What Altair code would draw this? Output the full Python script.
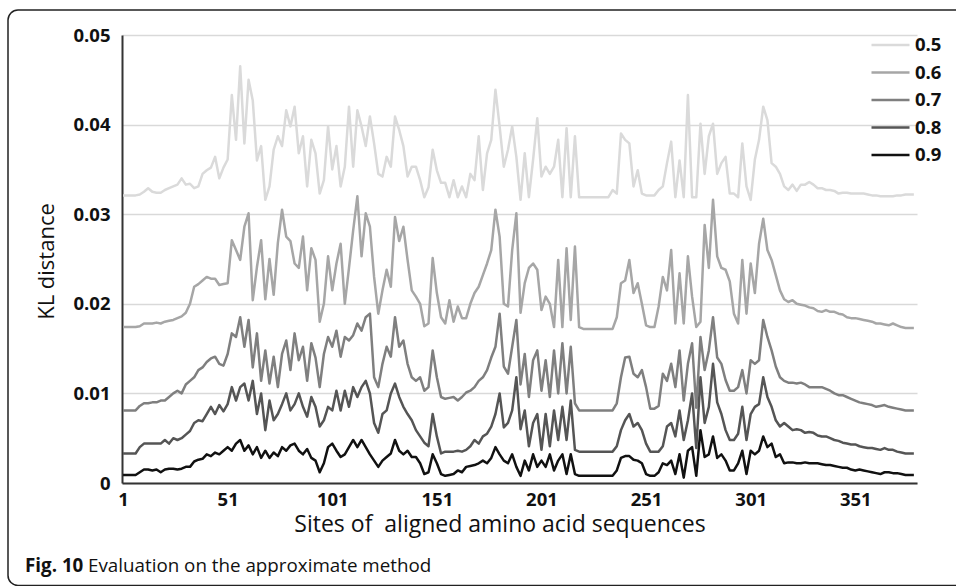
import altair as alt
import pandas as pd

# Site index (every second aligned position)
sites = list(range(1, 380, 2))
series_labels = ["0.5", "0.6", "0.7", "0.8", "0.9"]
line_colors = ["#dadada", "#a6a6a6", "#7f7f7f", "#555555", "#111111"]

# KL distance values, in units of 1e-4
kl_05 = [
    321, 321, 321, 321, 322, 325, 329, 325, 324, 324,
    327, 329, 331, 333, 340, 333, 334, 329, 331, 345,
    349, 352, 364, 340, 352, 361, 433, 383, 465, 379,
    450, 427, 360, 376, 316, 331, 372, 387, 376, 416,
    398, 420, 368, 387, 331, 383, 368, 323, 338, 398,
    350, 376, 331, 353, 420, 353, 416, 398, 376, 409,
    379, 345, 342, 364, 353, 409, 394, 376, 342, 353,
    353, 338, 319, 330, 372, 349, 335, 335, 319, 338,
    319, 331, 319, 345, 338, 387, 327, 368, 383, 439,
    398, 353, 372, 398, 364, 316, 368, 319, 361, 407,
    342, 353, 345, 353, 383, 319, 396, 319, 387, 319,
    319, 319, 319, 319, 319, 319, 319, 327, 323, 390,
    383, 379, 331, 349, 323, 321, 321, 321, 327, 331,
    357, 381, 319, 360, 319, 433, 319, 319, 401, 345,
    387, 401, 345, 357, 364, 323, 323, 319, 379, 331,
    316, 361, 383, 420, 405, 357, 353, 345, 331, 327,
    333, 326, 333, 333, 336, 333, 329, 329, 327, 327,
    326, 323, 324, 324, 323, 323, 323, 323, 322, 321,
    321, 320, 320, 320, 320, 321, 321, 322, 322, 322,
]
kl_06 = [
    174, 174, 174, 174, 175, 178, 178, 178, 179, 178,
    180, 181, 182, 184, 186, 190, 200, 219, 222, 226,
    230, 228, 228, 221, 222, 223, 271, 260, 249, 286,
    301, 204, 241, 271, 205, 250, 210, 268, 305, 275,
    270, 245, 240, 275, 215, 262, 249, 180, 200, 253,
    215, 245, 267, 200, 240, 282, 320, 253, 301, 286,
    230, 189, 215, 238, 219, 297, 270, 286, 249, 215,
    208, 200, 175, 178, 251, 212, 185, 178, 204, 180,
    197, 184, 184, 200, 212, 219, 232, 245, 260, 305,
    275, 200, 197, 260, 301, 190, 223, 240, 245, 238,
    193, 208, 200, 174, 249, 174, 262, 182, 264, 174,
    172, 172, 172, 172, 172, 172, 172, 172, 185, 223,
    226, 249, 212, 223, 200, 176, 174, 174, 197, 230,
    215, 260, 178, 234, 178, 253, 208, 174, 180, 288,
    240, 316, 253, 240, 238, 225, 189, 178, 249, 189,
    245, 212, 267, 295, 260, 249, 232, 215, 205, 202,
    204, 200, 199, 198, 196, 195, 192, 191, 193, 191,
    191, 189, 188, 185, 184, 184, 183, 182, 181, 180,
    178, 178, 177, 176, 178, 176, 174, 173, 173, 173,
]
kl_07 = [
    81, 81, 81, 81, 86, 89, 89, 90, 90, 92,
    92, 96, 100, 103, 100, 110, 114, 118, 126, 129,
    135, 139, 141, 133, 131, 144, 167, 163, 185, 152,
    182, 129, 167, 114, 148, 111, 141, 107, 144, 159,
    126, 167, 137, 152, 114, 156, 140, 107, 144, 163,
    152, 170, 141, 163, 159, 165, 178, 170, 185, 189,
    118, 107, 133, 152, 141, 185, 152, 159, 133, 118,
    114, 118, 103, 107, 148, 118, 96, 94, 95, 96,
    92, 96, 101, 103, 107, 114, 118, 126, 140, 152,
    189, 130, 122, 152, 182, 110, 144, 96, 137, 148,
    103, 137, 96, 148, 100, 156, 100, 152, 89, 81,
    81, 81, 81, 81, 81, 81, 81, 81, 89, 118,
    140, 141, 122, 118, 126, 107, 83, 83, 86, 122,
    114, 133, 107, 148, 92, 133, 156, 84, 163, 126,
    148, 185, 140, 133, 115, 103, 103, 107, 126, 100,
    137, 133, 137, 182, 163, 148, 130, 118, 114, 112,
    112, 111, 112, 110, 107, 107, 107, 107, 105, 103,
    100, 98, 98, 96, 94, 92, 90, 89, 88, 87,
    85, 86, 87, 85, 84, 83, 82, 81, 81, 81,
]
kl_08 = [
    33, 33, 33, 33, 40, 44, 44, 44, 44, 44,
    48, 44, 50, 48, 50, 54, 58, 67, 70, 69,
    77, 85, 77, 87, 80, 88, 107, 92, 107, 111,
    92, 114, 77, 100, 59, 92, 70, 77, 88, 100,
    81, 88, 100, 85, 74, 96, 85, 63, 70, 85,
    81, 103, 81, 103, 85, 107, 96, 107, 114, 100,
    67, 56, 77, 81, 100, 111, 96, 85, 77, 70,
    59, 52, 45, 41, 77, 52, 33, 35, 35, 35,
    36, 35, 37, 41, 48, 44, 52, 55, 63, 77,
    100, 62, 67, 81, 118, 60, 81, 41, 67, 77,
    37, 77, 41, 81, 48, 85, 48, 92, 37, 35,
    35, 35, 35, 35, 35, 35, 35, 35, 41, 59,
    70, 77, 63, 67, 59, 44, 35, 35, 35, 41,
    63, 67, 52, 81, 48, 70, 100, 39, 118, 67,
    85, 133, 90, 77, 59, 48, 48, 55, 85, 48,
    77, 85, 88, 118, 96, 85, 70, 63, 67, 63,
    59, 60, 59, 56, 57, 56, 53, 52, 52, 50,
    48, 47, 45, 44, 43, 43, 41, 40, 39, 39,
    38, 37, 39, 37, 37, 35, 34, 33, 33, 33,
]
kl_09 = [
    9, 9, 9, 9, 12, 15, 15, 14, 15, 12,
    15, 16, 16, 15, 16, 18, 18, 24, 26, 27,
    32, 30, 34, 32, 36, 40, 36, 44, 48, 36,
    42, 32, 40, 28, 36, 28, 34, 30, 40, 36,
    42, 44, 36, 32, 38, 28, 25, 12, 22, 40,
    44, 36, 29, 32, 40, 48, 40, 48, 40, 32,
    25, 18, 25, 29, 33, 48, 36, 32, 36, 29,
    29, 22, 10, 12, 32, 22, 10, 8, 9, 10,
    14, 12, 18, 19, 20, 22, 25, 22, 28, 40,
    32, 25, 22, 32, 18, 8, 25, 14, 32, 18,
    25, 18, 32, 14, 25, 32, 10, 32, 10, 8,
    8, 8, 8, 8, 8, 8, 8, 8, 14, 28,
    30, 30, 26, 25, 22, 10, 8, 8, 12, 22,
    20, 25, 10, 32, 6, 36, 40, 8, 59, 29,
    32, 52, 28, 32, 25, 14, 14, 22, 36, 10,
    36, 32, 36, 52, 40, 44, 29, 32, 22, 23,
    23, 22, 22, 23, 22, 22, 22, 21, 20, 20,
    19, 18, 17, 17, 15, 14, 15, 14, 13, 12,
    11, 10, 12, 12, 11, 11, 10, 9, 9, 9,
]

y_ticks = [0, 0.01, 0.02, 0.03, 0.04, 0.05]
x_ticks = [1, 51, 101, 151, 201, 251, 301, 351]
x_title = "Sites of \u00a0aligned amino acid sequences"
y_title = "KL distance"
caption_bold = "Fig. 10"
caption_text = "Evaluation on the approximate method"

rows = []
for lab, vals in zip(series_labels, [kl_05, kl_06, kl_07, kl_08, kl_09]):
    assert len(vals) == len(sites), (lab, len(vals))
    for s, v in zip(sites, vals):
        rows.append({"site": s, "kl": v / 10000.0, "series": lab})
df = pd.DataFrame(rows)

FONT = "Open Sans"

lines = alt.Chart(df).mark_line(strokeWidth=2.5, strokeJoin="round").encode(
    x=alt.X(
        "site:Q",
        scale=alt.Scale(domain=[0.5, 380.5], nice=False, zero=False),
        axis=alt.Axis(
            values=x_ticks, grid=False, ticks=False, tickSize=0,
            labelPadding=7, labelFont=FONT, labelFontSize=18.5, labelFontWeight="bold",
            labelColor="#111111", labelFlush=False,
            domainColor="#333333", domainWidth=2,
            title=x_title, titleFont=FONT, titleFontSize=23, titleFontWeight="normal",
            titleColor="#111111", titleX=377.5, titleY=48, titleAlign="center",
            titleBaseline="alphabetic", titleAngle=0,
        ),
    ),
    y=alt.Y(
        "kl:Q",
        scale=alt.Scale(domain=[0, 0.05], nice=False, zero=True),
        axis=alt.Axis(
            values=y_ticks, grid=True, gridColor="#d9d9d9", gridWidth=1.5,
            ticks=False, tickSize=0, labelPadding=12,
            labelExpr="datum.value == 0 ? '0' : format(datum.value, '.2f')",
            labelFont=FONT, labelFontSize=18.5, labelFontWeight="bold", labelColor="#111111",
            domainColor="#333333", domainWidth=2,
            title=y_title, titleFont=FONT, titleFontSize=22, titleFontWeight="normal",
            titleColor="#111111", titleX=-69, titleY=226, titleAlign="center",
            titleBaseline="alphabetic", titleAngle=270,
        ),
    ),
    color=alt.Color(
        "series:N",
        scale=alt.Scale(domain=series_labels, range=line_colors),
        legend=alt.Legend(
            title=None, orient="none", legendX=748, legendY=0, padding=0,
            direction="vertical", symbolType="stroke", symbolSize=1444,
            symbolStrokeWidth=2.5, clipHeight=20, rowPadding=7.5, labelOffset=4,
            labelFont=FONT, labelFontSize=18.5, labelFontWeight="bold", labelColor="#111111",
        ),
    ),
)

one = pd.DataFrame({"fig": [caption_bold], "desc": [caption_text]})

frame = alt.Chart(one).mark_rect(
    fillOpacity=0, stroke="#222222", strokeWidth=1.5, cornerRadius=10
).encode(
    x=alt.value(-114), x2=alt.value(900), y=alt.value(-25), y2=alt.value(550.5)
)

cap1 = alt.Chart(one).mark_text(
    align="left", baseline="alphabetic", font=FONT, fontSize=18.8, fontWeight="bold", color="#111111"
).encode(x=alt.value(-97), y=alt.value(537), text="fig:N")

cap2 = alt.Chart(one).mark_text(
    align="left", baseline="alphabetic", font=FONT, fontSize=18.8, fontWeight="normal", color="#111111"
).encode(x=alt.value(-34), y=alt.value(537), text="desc:N")

chart = alt.layer(lines, frame, cap1, cap2).properties(
    width=795, height=448,
    padding={"left": 122, "top": 35, "right": 39, "bottom": 103},
    autosize=alt.AutoSizeParams(type="none"),
).configure_view(stroke=None)

chart.save("out.html", embed_options={"renderer": "svg", "actions": False})
